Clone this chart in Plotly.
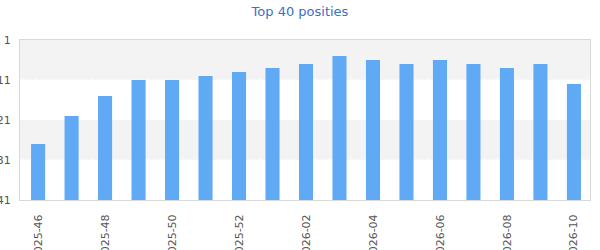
import plotly.graph_objects as go

weeks = ["2025-46", "2025-47", "2025-48", "2025-49", "2025-50", "2025-51", "2025-52",
         "2026-01", "2026-02", "2026-03", "2026-04", "2026-05", "2026-06", "2026-07",
         "2026-08", "2026-09", "2026-10"]
positions = [27, 20, 15, 11, 11, 10, 9, 8, 7, 5, 6, 7, 6, 7, 8, 7, 12]
y_ticks = [1, 11, 21, 31, 41]
bottom_pos = 41
bands = [(1, 11), (21, 31)]

fig = go.Figure()
fig.add_trace(go.Bar(
    x=weeks,
    y=[p - bottom_pos for p in positions],
    base=bottom_pos,
    marker=dict(color="#60a9f5", line=dict(width=0)),
    width=0.42,
    hoverinfo="skip",
))

for y0, y1 in bands:
    fig.add_shape(type="rect", xref="x domain", yref="y", x0=0, x1=1, y0=y0, y1=y1,
                  fillcolor="#f3f3f3", line=dict(width=0), layer="below")
    fig.add_shape(type="line", xref="x domain", yref="y", x0=0, x1=1, y0=y1, y1=y1,
                  line=dict(color="white", width=1, dash="4px,3px"), layer="below")

fig.update_layout(
    width=600, height=250,
    margin=dict(l=20, r=10, t=40, b=50),
    paper_bgcolor="white", plot_bgcolor="white",
    showlegend=False,
    bargap=0.58,
    title=dict(text="Top 40 posities", x=0.5, xanchor="center", y=0.955, yanchor="middle",
               font=dict(family="DejaVu Sans", size=13, color="#3d6fc6")),
    font=dict(family="DejaVu Sans", size=11, color="#555555"),
)

fig.update_xaxes(
    type="category",
    categoryorder="array", categoryarray=weeks,
    tickmode="array", tickvals=weeks[::2], ticktext=weeks[::2],
    tickangle=-90,
    range=[-0.54, len(weeks) - 0.52],
    showgrid=False,
    showline=True, mirror=True, linecolor="#d9d9d9", linewidth=1,
    ticks="outside", ticklen=9, tickcolor="rgba(0,0,0,0)",
    automargin=False,
    tickfont=dict(family="DejaVu Sans", size=11, color="#555555"),
)

fig.update_yaxes(
    range=[bottom_pos, 1],
    tickmode="array", tickvals=y_ticks, ticktext=[str(v) for v in y_ticks],
    showgrid=False,
    zeroline=False,
    showline=True, mirror=True, linecolor="#d9d9d9", linewidth=1,
    ticks="outside", ticklen=6, tickcolor="rgba(0,0,0,0)",
    automargin=False,
    tickfont=dict(family="DejaVu Sans", size=11, color="#555555"),
)

fig.write_html("out.html")
